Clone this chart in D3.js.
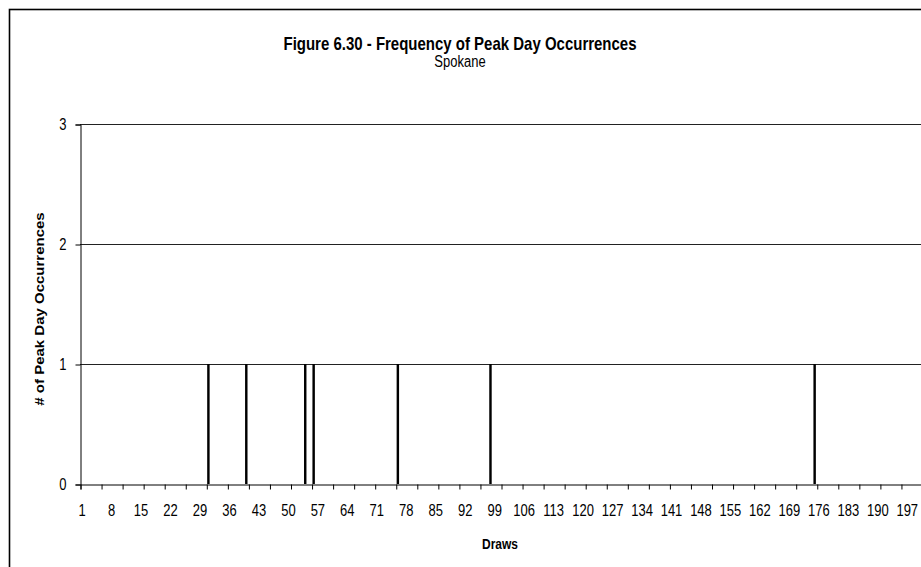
<!DOCTYPE html>
<html>
<head>
<meta charset="utf-8">
<script src="https://cdn.jsdelivr.net/npm/d3@7"></script>
<style>
  html, body { margin: 0; padding: 0; background: #fff; }
  svg { display: block; font-family: Arial, "Liberation Sans", sans-serif; }
</style>
</head>
<body>
<svg id="chart" width="921" height="567"></svg>
<script>
// ---- Data ----
const drawCount = 200;                                  // number of draws on the category axis
const peakDraws = [31, 40, 54, 56, 76, 98, 175];        // draws that had a peak-day occurrence
const peakCounts = [1, 1, 1, 1, 1, 1, 1];               // occurrences at those draws
const xTickLabels = [1, 8, 15, 22, 29, 36, 43, 50, 57, 64, 71, 78, 85, 92, 99, 106, 113, 120,
                     127, 134, 141, 148, 155, 162, 169, 176, 183, 190, 197];
const yTicks = [0, 1, 2, 3];
const titleText = "Figure 6.30 - Frequency of Peak Day Occurrences";
const subtitleText = "Spokane";
const xTitle = "Draws";
const yTitle = "# of Peak Day Occurrences";

// ---- Layout ----
const svg = d3.select("#chart");
const W = 921, H = 567;
const plot = { left: 80, right: 922, top: 124, bottom: 484 };
const K = 1.2; // vertical stretch of the lettering

const categories = d3.range(1, drawCount + 1);
const values = categories.map(c => {
  const i = peakDraws.indexOf(c);
  return i >= 0 ? peakCounts[i] : 0;
});

function stretch(sel) {
  sel.each(function () {
    const t = d3.select(this);
    const tx = +t.attr("x") || 0, ty = +t.attr("y") || 0;
    t.attr("x", 0).attr("y", 0)
     .attr("transform", `translate(${tx},${ty}) scale(1,${K})`);
  });
}

// chart border
svg.append("rect")
  .attr("x", 9.5).attr("y", 9.5)
  .attr("width", W + 20).attr("height", H + 20)
  .attr("fill", "#fff").attr("stroke", "#000").attr("stroke-width", 1.6);

const x = d3.scaleBand().domain(categories)
  .range([plot.left, plot.right]).paddingInner(0.42).paddingOuter(0.21);
const xb = d3.scaleLinear().domain([0, drawCount]).range([plot.left, plot.right]);
const y = d3.scaleLinear().domain([0, 3]).range([plot.bottom, plot.top]);

// gridlines
svg.append("g").selectAll("line")
  .data(yTicks.filter(d => d > 0))
  .join("line")
  .attr("x1", plot.left).attr("x2", plot.right)
  .attr("y1", d => Math.round(y(d)) + 0.5).attr("y2", d => Math.round(y(d)) + 0.5)
  .attr("stroke", "#222").attr("stroke-width", 1);

// bars
svg.append("g").selectAll("rect")
  .data(categories.filter((c, i) => values[i] > 0))
  .join("rect")
  .attr("x", d => x(d))
  .attr("width", x.bandwidth())
  .attr("y", d => y(values[d - 1]))
  .attr("height", d => y(0) - y(values[d - 1]))
  .attr("fill", "#000");

// y axis
const yAxis = svg.append("g")
  .attr("transform", `translate(${plot.left + 0.5},0.5)`)
  .call(d3.axisLeft(y).tickValues(yTicks).tickSize(5).tickPadding(9).tickFormat(d3.format("d")));
yAxis.select(".domain").attr("stroke", "#000");
yAxis.selectAll(".tick line").attr("stroke", "#000");
yAxis.selectAll("text").attr("font-size", 13).attr("fill", "#000")
  .attr("font-family", "Arial, 'Liberation Sans', sans-serif")
  .attr("dy", "0.3em")
  .call(stretch);

// x axis tick marks (every 5 draws, between categories)
const xTicksG = svg.append("g")
  .attr("transform", `translate(0.5,${plot.bottom + 0.5})`)
  .call(d3.axisBottom(xb).tickValues(d3.range(0, drawCount + 1, 5)).tickSize(5).tickFormat(""));
xTicksG.select(".domain").attr("stroke", "#000");
xTicksG.selectAll(".tick line").attr("stroke", "#000");

// x axis labels
const xLab = svg.append("g")
  .attr("transform", `translate(0,${plot.bottom})`)
  .call(d3.axisBottom(x).tickValues(xTickLabels).tickSize(0));
xLab.select(".domain").remove();
xLab.selectAll("text").attr("font-size", 13).attr("fill", "#000")
  .attr("font-family", "Arial, 'Liberation Sans', sans-serif")
  .attr("dy", 0).attr("y", 32)
  .call(stretch);

// titles
svg.append("text").attr("x", 460).attr("y", 50).attr("text-anchor", "middle")
  .attr("font-size", 15).attr("font-weight", "bold").text(titleText).call(stretch);
svg.append("text").attr("x", 460).attr("y", 67).attr("text-anchor", "middle")
  .attr("font-size", 13).text(subtitleText).call(stretch);
svg.append("text").attr("x", 500).attr("y", 549).attr("text-anchor", "middle")
  .attr("font-size", 12).attr("font-weight", "bold").text(xTitle).call(stretch);
svg.append("text").attr("transform", `translate(44,309) scale(1,${K}) rotate(-90)`)
  .attr("text-anchor", "middle")
  .attr("font-size", 12.5).attr("font-weight", "bold").text(yTitle);
</script>
</body>
</html>
